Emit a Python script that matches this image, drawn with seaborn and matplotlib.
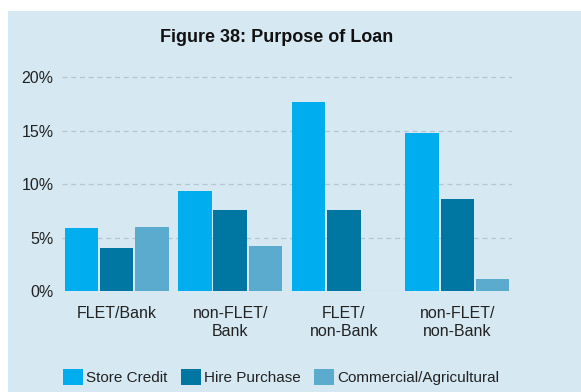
import pandas as pd
import seaborn as sns
import matplotlib.pyplot as plt
from matplotlib.patches import Rectangle

# values (percent)
groups = ['FLET/Bank', 'non-FLET/\nBank', 'FLET/\nnon-Bank', 'non-FLET/\nnon-Bank']
purposes = ['Store Credit', 'Hire Purchase', 'Commercial/Agricultural']
store_credit = [5.9, 9.4, 17.7, 14.8]
hire_purchase = [4.0, 7.6, 7.6, 8.6]
commercial = [6.0, 4.2, 0.0, 1.1]
colors = ['#00aeef', '#0076a3', '#5aabcd']
yticks = [0, 5, 10, 15, 20]

df = pd.DataFrame({
    'group': groups * 3,
    'purpose': [p for p in purposes for _ in groups],
    'value': store_credit + hire_purchase + commercial,
})

sns.set_style('white')
plt.rcParams['font.family'] = ['Liberation Sans', 'DejaVu Sans']

bg = '#d6e8f2'
fig = plt.figure(figsize=(5.81, 3.92), dpi=100)
fig.patch.set_facecolor('white')
fig.patches.append(Rectangle((8 / 581, 0), 1, 1 - 11 / 392, transform=fig.transFigure,
                             facecolor=bg, edgecolor='none', zorder=-10))

ax = fig.add_axes([62 / 581, 1 - 291 / 392, 450 / 581, (291 - 74) / 392])
ax.set_facecolor(bg)
ax.patch.set_alpha(0)

sns.barplot(data=df, x='group', y='value', hue='purpose', palette=colors,
            width=0.93, gap=0.05, ax=ax, saturation=1, linewidth=0, legend=True)

ax.set_ylim(0, 20.3)
ax.set_xlim(-0.48, 3.48)
ax.set_yticks(yticks)
ax.set_yticklabels([f'{t}%' for t in yticks])
ax.yaxis.grid(True, linestyle=(0, (4, 3)), color='#b3c6d1', linewidth=0.9)
ax.set_axisbelow(True)
for s in ax.spines.values():
    s.set_visible(False)
ax.tick_params(axis='both', length=0, labelsize=11.5, colors='#222222')
ax.tick_params(axis='x', pad=11)
ax.tick_params(axis='y', pad=6)
ax.set_xlabel('')
ax.set_ylabel('')

handles, labels = ax.get_legend_handles_labels()
ax.get_legend().remove()
fig.legend(handles, labels, loc='center', bbox_to_anchor=(281 / 581, 1 - 377 / 392),
           ncol=3, frameon=False, fontsize=11, handlelength=1.3, handleheight=1.3,
           handletextpad=0.2, columnspacing=0.9, labelcolor='#222222')

fig.text(277 / 581, 1 - 37 / 392, 'Figure 38: Purpose of Loan', ha='center', va='center',
         fontsize=13, fontweight='bold', color='#111111')

plt.savefig('out.png', dpi=100, facecolor=fig.get_facecolor())
